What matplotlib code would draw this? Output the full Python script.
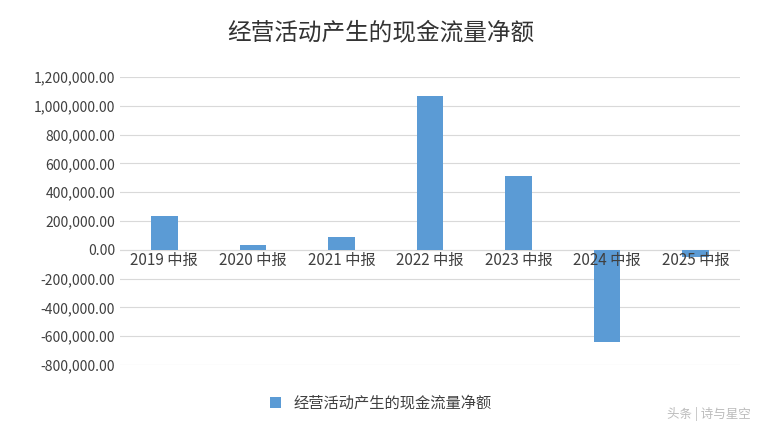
import numpy as np
import matplotlib.pyplot as plt

plt.rcParams["font.family"] = ["Noto Sans CJK SC", "DejaVu Sans"]

categories = ["2019 中报", "2020 中报", "2021 中报", "2022 中报", "2023 中报", "2024 中报", "2025 中报"]
values = [236000, 32000, 88000, 1068000, 512000, -642000, -52000]
series_name = "经营活动产生的现金流量净额"

fig = plt.figure(figsize=(7.62, 4.34), dpi=100)
ax = fig.add_axes([120 / 762, 1 - 365 / 434, 620 / 762, 288 / 434])

x = np.arange(len(categories))
ax.bar(x, values, width=0.3, color="#5B9BD5", zorder=3, label=series_name)

ax.set_ylim(-800000, 1200000)
ax.set_xlim(-0.5, len(categories) - 0.5)
ax.set_yticks(np.arange(-800000, 1200001, 200000))
ax.set_yticklabels(["{:,.2f}".format(v) for v in np.arange(-800000, 1200001, 200000)],
                   fontsize=10, color="#404040")
ax.yaxis.grid(True, color="#d9d9d9", linewidth=0.8, zorder=0)
ax.axhline(0, color="#d9d9d9", linewidth=0.8, zorder=1)
for s in ax.spines.values():
    s.set_visible(False)
ax.tick_params(axis="both", length=0)
ax.set_xticks([])
for xi, c in zip(x, categories):
    ax.text(xi, -15000, c, ha="center", va="top", fontsize=11, color="#404040", zorder=4)

fig.text(0.5, 1 - 33 / 434, series_name, ha="center", va="center", fontsize=17, color="#333333")
fig.legend(loc="center", bbox_to_anchor=(0.5, 1 - 403 / 434), frameon=False, fontsize=11,
           handlelength=0.7, handleheight=0.7, labelcolor="#404040")
fig.text(0.985, 0.03, "头条 | 诗与星空", ha="right", va="bottom", fontsize=9, color="#bbbbbb")

fig.savefig("out.png", dpi=100)
